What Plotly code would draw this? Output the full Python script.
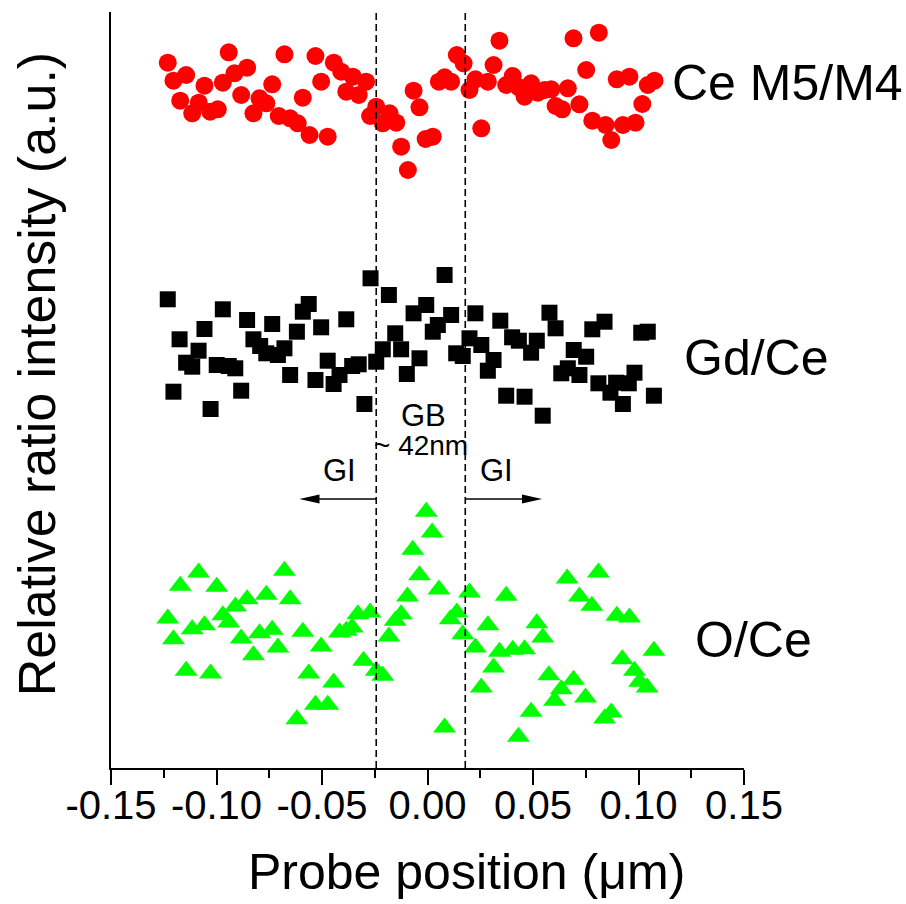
import plotly.graph_objects as go

# ---- data (probe position in um, relative intensity in a.u.) ----
ce_x = [-0.1231, -0.1204, -0.1172, -0.1144, -0.1115, -0.1084, -0.1057, -0.1030, -0.0994, -0.0970,
        -0.0942, -0.0915, -0.0883, -0.0855, -0.0825, -0.0796, -0.0764, -0.0736, -0.0705, -0.0678,
        -0.0651, -0.0615, -0.0591, -0.0559, -0.0531, -0.0504, -0.0473, -0.0444, -0.0409, -0.0385,
        -0.0354, -0.0326, -0.0291, -0.0272, -0.0243, -0.0212, -0.0180, -0.0148, -0.0125, -0.0093,
        -0.0066, -0.0038, -0.0009, 0.0025, 0.0054, 0.0081, 0.0112, 0.0139, 0.0171, 0.0199,
        0.0227, 0.0255, 0.0286, 0.0313, 0.0341, 0.0373, 0.0404, 0.0433, 0.0460, 0.0491,
        0.0523, 0.0555, 0.0586, 0.0607, 0.0638, 0.0665, 0.0692, 0.0720, 0.0752, 0.0781,
        0.0812, 0.0844, 0.0871, 0.0897, 0.0926, 0.0957, 0.0986, 0.1018, 0.1044, 0.1076]
ce_y = [7.053, 6.873, 6.673, 6.930, 6.547, 6.653, 6.823, 6.563, 6.587, 6.853,
        7.157, 6.947, 6.730, 7.003, 6.547, 6.697, 6.647, 6.837, 6.520, 7.137,
        6.497, 6.447, 6.703, 6.330, 7.120, 6.863, 6.313, 7.053, 6.963, 6.763,
        6.913, 6.730, 6.863, 6.520, 6.613, 6.447, 6.547, 6.453, 6.213, 5.980,
        6.773, 6.607, 6.290, 6.313, 6.863, 6.907, 6.863, 7.130, 7.047, 6.780,
        6.887, 6.397, 6.863, 7.030, 7.273, 6.830, 6.920, 6.807, 6.713, 6.847,
        6.753, 6.780, 6.787, 6.620, 6.587, 6.797, 7.297, 6.637, 6.980, 6.473,
        7.353, 6.430, 6.280, 6.887, 6.430, 6.913, 6.453, 6.640, 6.830, 6.873]

gd_x = [-0.1231, -0.1204, -0.1175, -0.1144, -0.1115, -0.1085, -0.1057, -0.1028, -0.0999, -0.0970,
        -0.0942, -0.0911, -0.0883, -0.0855, -0.0825, -0.0793, -0.0764, -0.0736, -0.0709, -0.0678,
        -0.0651, -0.0619, -0.0591, -0.0563, -0.0531, -0.0504, -0.0473, -0.0445, -0.0417, -0.0385,
        -0.0357, -0.0326, -0.0299, -0.0270, -0.0243, -0.0212, -0.0183, -0.0153, -0.0125, -0.0098,
        -0.0066, -0.0038, -0.0006, 0.0025, 0.0049, 0.0081, 0.0112, 0.0136, 0.0167, 0.0199,
        0.0227, 0.0255, 0.0286, 0.0313, 0.0345, 0.0373, 0.0401, 0.0433, 0.0460, 0.0491,
        0.0518, 0.0546, 0.0578, 0.0607, 0.0634, 0.0665, 0.0693, 0.0720, 0.0752, 0.0781,
        0.0810, 0.0839, 0.0867, 0.0894, 0.0926, 0.0954, 0.0981, 0.1013, 0.1044, 0.1073]
gd_y = [4.687, 3.763, 4.287, 4.053, 4.013, 4.173, 4.390, 3.590, 4.030, 4.587,
        4.020, 3.997, 3.773, 4.480, 4.287, 4.220, 4.147, 4.440, 4.130, 4.197,
        3.930, 4.363, 4.563, 4.640, 3.880, 4.407, 4.073, 3.840, 3.930, 4.487,
        4.020, 4.037, 3.640, 4.897, 4.063, 4.187, 4.730, 4.347, 4.187, 3.940,
        4.547, 4.097, 4.630, 4.363, 4.430, 4.930, 4.530, 4.147, 4.120, 4.297,
        4.547, 4.230, 3.973, 4.080, 4.473, 3.723, 4.307, 4.273, 3.713, 4.153,
        4.273, 3.523, 4.553, 4.397, 3.947, 3.997, 4.180, 3.930, 4.113, 4.387,
        3.847, 4.463, 3.753, 3.853, 3.640, 3.847, 3.953, 4.353, 4.363, 3.723]

o_x = [-0.1231, -0.1204, -0.1172, -0.1144, -0.1115, -0.1085, -0.1057, -0.1028, -0.0999, -0.0970,
       -0.0942, -0.0910, -0.0883, -0.0855, -0.0825, -0.0796, -0.0764, -0.0736, -0.0709, -0.0678,
       -0.0651, -0.0619, -0.0591, -0.0563, -0.0531, -0.0504, -0.0473, -0.0445, -0.0417, -0.0385,
       -0.0357, -0.0330, -0.0303, -0.0272, -0.0243, -0.0212, -0.0183, -0.0153, -0.0125, -0.0095,
       -0.0070, -0.0038, -0.0006, 0.0022, 0.0054, 0.0081, 0.0108, 0.0139, 0.0167, 0.0199,
       0.0227, 0.0255, 0.0286, 0.0313, 0.0341, 0.0373, 0.0404, 0.0431, 0.0460, 0.0491,
       0.0518, 0.0546, 0.0575, 0.0602, 0.0634, 0.0662, 0.0692, 0.0720, 0.0749, 0.0779,
       0.0810, 0.0839, 0.0871, 0.0897, 0.0923, 0.0957, 0.0981, 0.1005, 0.1041, 0.1073]
o_y = [1.495, 1.288, 1.822, 0.972, 1.388, 1.955, 1.428, 0.945, 1.812, 1.528,
       1.455, 1.615, 1.295, 1.688, 1.128, 1.348, 1.732, 1.382, 1.205, 1.972,
       1.688, 0.488, 1.362, 0.945, 0.632, 1.215, 0.632, 0.855, 1.355, 1.372,
       1.405, 1.538, 1.072, 1.555, 0.972, 0.922, 1.315, 1.472, 1.538, 1.715,
       2.182, 1.928, 2.562, 2.355, 1.785, 0.405, 1.488, 1.555, 1.338, 1.755,
       1.205, 0.805, 1.428, 1.005, 1.162, 1.722, 1.182, 0.312, 1.188, 0.562,
       1.448, 1.305, 0.928, 0.672, 0.788, 1.895, 0.882, 1.715, 0.705, 1.622,
       1.955, 0.495, 0.555, 1.522, 1.088, 1.505, 0.972, 0.862, 0.805, 1.172]

x_tickvals = [-0.15, -0.10, -0.05, 0.00, 0.05, 0.10, 0.15]
x_ticktext = ["-0.15", "-0.10", "-0.05", "0.00", "0.05", "0.10", "0.15"]

gb_bounds = [-0.0243, 0.0179]      # grain boundary region (~42 nm)
series_labels = ["Ce M5/M4", "Gd/Ce", "O/Ce"]

X_RANGE = [-0.15, 0.15]
Y_RANGE = [0, 7.56]
FONT = "Liberation Sans, Arial, sans-serif"

fig = go.Figure()
fig.add_trace(go.Scatter(x=ce_x, y=ce_y, mode="markers", name=series_labels[0],
                         marker=dict(symbol="circle", size=18, color="#FF0000", line=dict(width=0))))
fig.add_trace(go.Scatter(x=gd_x, y=gd_y, mode="markers", name=series_labels[1],
                         marker=dict(symbol="square", size=16, color="#000000", line=dict(width=0))))
fig.add_trace(go.Scatter(x=o_x, y=o_y, mode="markers", name=series_labels[2],
                         marker=dict(symbol="triangle-up", size=20, color="#00FF00", line=dict(width=0))))

# dashed GB boundary lines
for xb in gb_bounds:
    fig.add_shape(type="line", xref="x", yref="paper", x0=xb, x1=xb, y0=0, y1=1,
                  line=dict(color="black", width=1.6, dash="7px,4px"), layer="above")

# arrows GI
arrow_y = 2.69
arrow_len = 0.0364
head_len = 0.0095
head_half = 0.045
left_tip = gb_bounds[0] - arrow_len
right_tip = gb_bounds[1] + arrow_len
fig.add_shape(type="line", xref="x", yref="y", x0=gb_bounds[0], x1=left_tip + head_len / 2,
              y0=arrow_y, y1=arrow_y, line=dict(color="black", width=1.3))
fig.add_shape(type="path", xref="x", yref="y",
              path=f"M {left_tip} {arrow_y} L {left_tip + head_len} {arrow_y + head_half} "
                   f"L {left_tip + head_len} {arrow_y - head_half} Z",
              fillcolor="black", line=dict(width=0))
fig.add_shape(type="line", xref="x", yref="y", x0=gb_bounds[1], x1=right_tip - head_len / 2,
              y0=arrow_y, y1=arrow_y, line=dict(color="black", width=1.3))
fig.add_shape(type="path", xref="x", yref="y",
              path=f"M {right_tip} {arrow_y} L {right_tip - head_len} {arrow_y + head_half} "
                   f"L {right_tip - head_len} {arrow_y - head_half} Z",
              fillcolor="black", line=dict(width=0))

# series labels
label_pos = [(0.1150, 6.85), (0.1204, 4.10), (0.1256, 1.28)]
for txt, (lx, ly) in zip(series_labels, label_pos):
    fig.add_annotation(x=lx, y=ly, xref="x", yref="y", text=txt, showarrow=False,
                       xanchor="left", yanchor="middle", font=dict(family=FONT, size=50, color="black"))

# GB / GI text
fig.add_annotation(x=-0.0019, y=3.53, text="GB", showarrow=False,
                   font=dict(family=FONT, size=31, color="black"))
fig.add_annotation(x=-0.0033, y=3.23, text="~ 42nm", showarrow=False,
                   font=dict(family=FONT, size=28, color="black"))
fig.add_annotation(x=-0.0417, y=2.98, text="GI", showarrow=False,
                   font=dict(family=FONT, size=31, color="black"))
fig.add_annotation(x=0.0327, y=2.98, text="GI", showarrow=False,
                   font=dict(family=FONT, size=31, color="black"))

# axis titles
fig.add_annotation(xref="paper", yref="paper", x=0.562, y=-0.1376, text="Probe position (μm)",
                   showarrow=False, xanchor="center", yanchor="middle",
                   font=dict(family=FONT, size=50, color="black"))
fig.add_annotation(xref="paper", yref="paper", x=-0.117, y=0.522,
                   text="Relative ratio intensity (a.u.)", textangle=-90,
                   showarrow=False, xanchor="center", yanchor="middle",
                   font=dict(family=FONT, size=52, color="black"))

fig.update_xaxes(range=X_RANGE, tickvals=x_tickvals, ticktext=x_ticktext,
                 showline=True, linecolor="black", linewidth=2, mirror=False,
                 ticks="outside", ticklen=15, tickwidth=2, tickcolor="black",
                 ticklabelstandoff=-14,
                 minor=dict(dtick=0.025, tick0=-0.15, ticks="outside", ticklen=8, tickwidth=2,
                            tickcolor="black"),
                 showgrid=False, zeroline=False,
                 tickfont=dict(family=FONT, size=40, color="black"))
fig.update_yaxes(range=Y_RANGE, showline=True, linecolor="black", linewidth=2,
                 showticklabels=False, ticks="", showgrid=False, zeroline=False)

fig.update_layout(width=906, height=904, showlegend=False,
                  paper_bgcolor="white", plot_bgcolor="white",
                  margin=dict(l=111, r=162, t=12, b=136))

fig.write_html("out.html", config={"displayModeBar": False},
               post_script="document.body.style.margin='0';")
